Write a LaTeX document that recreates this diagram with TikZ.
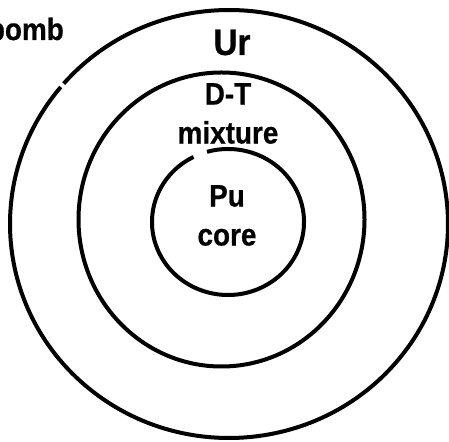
\documentclass[tikz,border=0pt]{standalone}
\usepackage{fontspec}
\newfontfamily\labelfont[FakeStretch=0.9,BoldFeatures={FakeBold=0.6}]{Liberation Sans}
\usetikzlibrary{calc}

\begin{document}
\begin{tikzpicture}[
  x=1pt, y=1pt,
  shell/.style={line width=4pt, black},
  lbl/.style={inner sep=0pt, align=center, font=\labelfont\bfseries\fontsize{31}{39}\selectfont},
  biglbl/.style={inner sep=0pt, font=\labelfont\bfseries\fontsize{37}{44}\selectfont}
]
\useasboundingbox (0,0) rectangle (449,441);
\clip (0,0) rectangle (449,441);
\coordinate (cout) at (229,217);
\coordinate (cmid) at (221.5,221.5);
\coordinate (cin) at (228,219);
% shells
\draw[shell] ($(cout)+(140.2:219 and 214)$) arc[start angle=140.2, end angle=499, x radius=219, y radius=214];
\draw[shell] (cmid) ellipse[x radius=143, y radius=147];
\draw[shell] ($(cin)+(117:76 and 73)$) arc[start angle=117, end angle=466, x radius=76, y radius=73];
% labels
\node[lbl, anchor=base east] (bomb) at (64,401) {bomb};
\node[biglbl, anchor=base] (ur) at (232,386) {Ur};
\node[lbl, anchor=north] (dt) at (228,358) {D-T\\mixture};
\node[lbl, anchor=north] (pu) at (227,256) {Pu\\core};
\end{tikzpicture}
\end{document}
